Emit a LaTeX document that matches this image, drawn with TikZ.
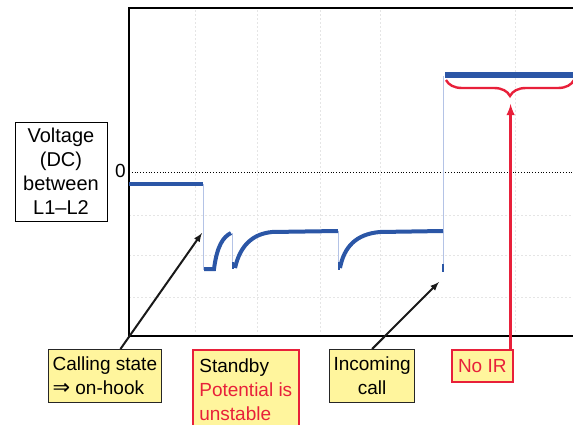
\documentclass[tikz,border=0pt]{standalone}
\usepackage{amsmath}
\usepackage{amssymb}
\usepackage{fontspec}
\setmainfont{Liberation Sans}
\newfontfamily\arrowglyphs{DejaVu Sans}
\usepackage{tikz}
\usetikzlibrary{arrows, decorations.pathreplacing, calc, positioning}
\definecolor{waveBlue}{HTML}{2B56A6}
\definecolor{traceBlue}{HTML}{B4C3E6}
\definecolor{noteYellow}{HTML}{FFF59D}
\definecolor{noteRed}{HTML}{E8203A}
\tikzset{
    axisLabel/.style={rectangle, draw, fill=white, line width=0.9pt, align=center, inner sep=0pt, minimum width=92pt, minimum height=99pt, font=\fontsize{20}{24}\selectfont},
    noteBox/.style={rectangle, draw=black!85, fill=noteYellow, line width=1.1pt, inner sep=4pt, anchor=north west, minimum height=53pt, font=\fontsize{19}{24}\selectfont},
    alertBox/.style={noteBox, draw=noteRed, line width=1.6pt},
    waveLine/.style={draw=waveBlue, line width=4pt},
    waveEdge/.style={draw=traceBlue, line width=1pt},
    gridLine/.style={draw=black!10, dashed, dash pattern=on 2pt off 2pt, thin},
    pointer/.style={->, >=latex, line width=2pt, black!90},
    alertPointer/.style={->, >=latex, line width=2.8pt, noteRed},
}
\newcommand{\drawDrop}[3]{
    \draw[waveEdge] (#1,#2) -- (#1,#3);
}

\begin{document}
\begin{tikzpicture}[x=1pt, y=-1pt]
    \useasboundingbox (0,0) rectangle (573,425);

    % grid
    \foreach \gy in {215, 255, 297}
        \draw[gridLine] (129,\gy) -- (573,\gy);
    \foreach \gx in {195, 257, 320, 380, 515}
        \draw[gridLine] (\gx,10) -- (\gx,334);

    % frame
    \draw[line width=1.2pt] (573,8) -- (129,8) -- (129,336) -- (573,336);
    \draw[dotted, thick] (129,172) -- (573,172);
    \node[font=\fontsize{19}{24}\selectfont, anchor=east, inner sep=1pt] (zero) at (127,171) {0};

    % waveform
    \begin{scope}
        \clip (129,8) rectangle (573,336);
        \drawDrop{203}{184}{270}
        \drawDrop{232}{233}{268}
        \drawDrop{338}{231}{270}
        \drawDrop{443.5}{272}{76}
        \draw[waveLine] (129,184) -- (203,184);
        \draw[waveLine] (204,269) -- (214,269) .. controls (217,246) and (223,237) .. (231,233);
        \draw[waveLine, line width=2.5pt] (233,262) -- (233,269);
        \draw[waveLine] (235,268) .. controls (240,246) and (252,234) .. (272,232) -- (338,231);
        \draw[waveLine, line width=2.5pt] (339,262) -- (339,270);
        \draw[waveLine] (340,268) .. controls (344,247) and (356,234) .. (380,232) -- (443,231);
        \draw[waveLine, line width=2.5pt] (443,264) -- (443,272);
        \draw[waveLine, line width=6pt] (445,75) -- (573,75);
    \end{scope}

    % brace over the top level
    \draw[noteRed, line width=2.4pt, decorate, decoration={brace, mirror, amplitude=16pt}] (446,80) -- (574,80);

    % labels
    \node[axisLabel] (voltage) at (61,171.5) {Voltage\\(DC)\\between\\L1--L2};
    \node[noteBox, align=left, minimum width=111pt] (calling) at (48,349) {Calling state\\{\arrowglyphs\fontsize{21}{24}\selectfont ⇒} on-hook};
    \node[alertBox, align=left, minimum width=106pt, minimum height=80pt] (standby) at (192,349) {Standby\\\textcolor{noteRed}{Potential is}\\\textcolor{noteRed}{unstable}};
    \node[noteBox, align=center, minimum width=84pt] (incoming) at (329,349) {Incoming\\call};
    \node[alertBox, text=noteRed, minimum width=61pt, minimum height=32pt] (noIR) at (451,349) {No IR};

    % pointers
    \coordinate (hookTip) at (202,233);
    \coordinate (callTip) at (439,282);
    \coordinate (irTip) at (509,104);
    \draw[pointer] (calling.60) -- (hookTip);
    \draw[pointer] (incoming.north) -- (callTip);
    \draw[alertPointer] ([xshift=-3pt]noIR.north east) -- ([xshift=-3pt]noIR.north east |- irTip);

\end{tikzpicture}
\end{document}
